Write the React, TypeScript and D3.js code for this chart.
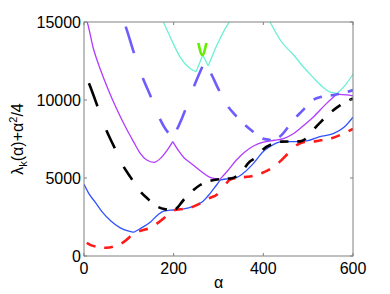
import React, { useEffect, useRef } from "react";
import * as d3 from "d3";

type Pt = [number, number];

// axis ticks
const alphaTicks = [0, 200, 400, 600];
const valueTicks = [0, 5000, 10000, 15000];

// each branch is split at its cusps, so every piece is a smooth run
const redDashed: Pt[][] = [
  [
    [0, 950], [15, 700], [30, 580], [50, 530], [70, 640], [89, 900], [112, 1450],
    [130, 1650], [145, 1780], [160, 2030], [178, 2420], [190, 2750], [201, 2930],
    [223, 3030], [245, 3180], [260, 3380], [279, 3700], [297, 3950], [311, 4400],
    [326, 4900], [345, 5020], [370, 5100], [396, 5300], [411, 5500], [437, 6050],
    [456, 6600], [474, 7100], [489, 7300], [515, 7350], [534, 7450], [552, 7550],
    [571, 7750], [590, 8000], [600, 8150],
  ],
];

const blueSolid: Pt[][] = [
  [[0, 4600], [12, 3950], [25, 3450], [40, 2850], [60, 2250], [80, 1820], [100, 1590], [111, 1520]],
  [
    [111, 1520], [125, 1750], [149, 2200], [165, 2650], [178, 2880], [200, 2950],
    [220, 3000], [245, 3200], [265, 3500], [281, 4000], [297, 4600], [305, 4880],
    [320, 4950], [337, 5000], [355, 5300], [378, 5940], [400, 6700], [415, 7010],
    [430, 7250], [445, 7330], [478, 7330], [500, 7400], [526, 7650], [556, 7850],
    [580, 8250], [600, 8900],
  ],
];

const blackDashed: Pt[][] = [
  [
    [0, 11800], [11, 11070], [30, 9600], [48, 8180], [67, 7010], [85, 5900], [104, 5040],
    [123, 4230], [141, 3700], [164, 3160], [182, 2990], [195, 2950],
  ],
  [
    [195, 2950], [203, 2990], [222, 3590], [240, 4120], [259, 4550], [282, 4830],
    [297, 4900], [318, 4960], [330, 4990], [348, 5300], [370, 6050], [381, 6260],
    [400, 6850], [420, 7180], [441, 7330], [482, 7350], [493, 7480], [504, 7800],
    [515, 8200], [530, 8650], [552, 9250], [571, 9650], [600, 10100],
  ],
];

const purpleSolid: Pt[][] = [
  [
    [0, 15400], [7, 15000], [20, 13400], [37, 11920], [55, 10600], [74, 9360], [92, 8300],
    [111, 7300], [125, 6600], [140, 6150], [156, 6000], [172, 6300], [186, 6800], [198, 7330],
  ],
  [[198, 7330], [212, 6700], [223, 6300], [236, 6000], [260, 5450], [280, 5050], [303, 4910]],
  [
    [303, 4910], [320, 5450], [340, 6150], [358, 6650], [378, 7050], [400, 7300],
    [425, 7420], [445, 7520], [465, 7800], [485, 8250], [511, 8900], [540, 9750], [564, 10380],
  ],
  [[564, 10380], [585, 10330], [600, 10270]],
];

const purpleDashed: Pt[][] = [
  [[85, 15300], [93, 14700], [111, 13050], [130, 11490], [149, 10210], [167, 8930], [186, 7970], [196, 7700]],
  [[196, 7700], [204, 7970], [223, 9150], [245, 10850], [259, 11810], [268, 12400]],
  [
    [268, 12400], [281, 11810], [299, 10750], [314, 9890], [337, 9040], [359, 8400],
    [377, 7970], [396, 7560], [413, 7450], [425, 7420],
  ],
  [
    [425, 7420], [441, 7760], [456, 8290], [474, 8930], [485, 9250], [511, 10000],
    [530, 10210], [556, 10320], [575, 10420], [600, 10640],
  ],
];

const cyanSolid: Pt[][] = [
  [[177, 15000], [192, 14060], [214, 12770], [236, 12030], [250, 11810]],
  [[250, 11810], [265, 12880]],
  [[265, 12880], [277, 12180]],
  [[277, 12180], [296, 13500], [314, 14530], [324, 15000]],
  [[415, 15000], [440, 13750], [467, 12900], [490, 12100], [511, 11450], [532, 10850], [553, 10470], [565, 10430]],
  [[565, 10430], [586, 11070], [601, 11700]],
];

const greenSolid: Pt[][] = [[[255, 13650], [264, 12880], [273, 13650]]];

const x = d3.scaleLinear().domain([0, 600]).range([84, 353]);
const y = d3.scaleLinear().domain([0, 15000]).range([256, 22]);

const line = d3
  .line<Pt>()
  .x((d) => x(d[0]))
  .y((d) => y(d[1]))
  .curve(d3.curveMonotoneX);

// dashes in the figure cover a fixed stretch of alpha: phase, period, dash length (alpha units)
const dashSets = [
  { id: "red", data: redDashed, color: "#ff1a1a", phase: 6, period: 38.9, dash: 19.5 },
  { id: "black", data: blackDashed, color: "#000000", phase: 11, period: 38.7, dash: 19 },
  { id: "purple", data: purpleDashed, color: "#6e5cff", phase: 93, period: 38.1, dash: 18.5 },
];

const solidSets = [
  { data: blueSolid, color: "#2f52ff", w: 1.3 },
  { data: purpleSolid, color: "#b13cff", w: 1.3 },
  { data: cyanSolid, color: "#6cf0d6", w: 1.3 },
  { data: greenSolid, color: "#66ee00", w: 2.6 },
];

const font = "'Liberation Sans', Arial, Helvetica, sans-serif";

export default function App() {
  const svgRef = useRef<SVGSVGElement>(null);
  const [x0, x1] = x.range();
  const [y0, y1] = y.range();

  // turn the alpha-based dash stretches into a stroke-dasharray along each path
  useEffect(() => {
    d3.select(svgRef.current)
      .selectAll<SVGPathElement, unknown>("path.dashed")
      .each(function () {
        const el = this;
        const phase = +(el.dataset.phase as string);
        const period = +(el.dataset.period as string);
        const dash = +(el.dataset.dash as string);
        const total = el.getTotalLength();
        const lenAt = (px: number) => {
          let lo = 0;
          let hi = total;
          for (let i = 0; i < 40; i++) {
            const mid = (lo + hi) / 2;
            if (el.getPointAtLength(mid).x < px) lo = mid;
            else hi = mid;
          }
          return (lo + hi) / 2;
        };
        const a0 = x.invert(el.getPointAtLength(0).x);
        const a1 = x.invert(el.getPointAtLength(total).x);
        const arr: number[] = [];
        let pos = 0;
        const k = Math.floor((a0 - phase) / period);
        for (let s = phase + k * period; s < a1; s += period) {
          const sa = Math.max(s, a0);
          const ea = Math.min(s + dash, a1);
          if (ea <= sa) continue;
          const ls = sa <= a0 ? 0 : lenAt(x(sa));
          const le = ea >= a1 ? total : lenAt(x(ea));
          const gap = ls - pos;
          if (arr.length === 0) {
            if (gap > 0) arr.push(0, gap);
          } else arr.push(gap);
          arr.push(le - ls);
          pos = le;
        }
        if (arr.length === 0) arr.push(0, total + 10);
        else arr.push(total - pos + 10);
        el.setAttribute("stroke-dasharray", arr.map((v) => v.toFixed(2)).join(" "));
      });
  }, []);

  return (
    <svg
      ref={svgRef}
      width={390}
      height={294}
      style={{ position: "absolute", left: 0, top: 0, background: "#fff" }}
      fontFamily={font}
    >
      <defs>
        <clipPath id="plot-area">
          <rect x={x0} y={y1} width={x1 - x0} height={y0 - y1} />
        </clipPath>
      </defs>

      <g clipPath="url(#plot-area)" fill="none">
        {solidSets.map((s, i) =>
          s.data.map((seg, j) => (
            <path key={`${i}-${j}`} d={line(seg) ?? ""} stroke={s.color} strokeWidth={s.w} />
          ))
        )}
        {dashSets.map((s) =>
          s.data.map((seg, j) => (
            <path
              key={`${s.id}-${j}`}
              className="dashed"
              data-phase={s.phase}
              data-period={s.period}
              data-dash={s.dash}
              d={line(seg) ?? ""}
              stroke={s.color}
              strokeWidth={2.6}
            />
          ))
        )}
      </g>

      {/* frame and inward ticks */}
      <rect x={x0} y={y1} width={x1 - x0} height={y0 - y1} fill="none" stroke="#808080" strokeWidth={1} />
      {alphaTicks.map((t) => (
        <g key={`xt${t}`} stroke="#808080">
          <line x1={x(t)} x2={x(t)} y1={y0} y2={y0 - 3} />
          <line x1={x(t)} x2={x(t)} y1={y1} y2={y1 + 3} />
        </g>
      ))}
      {valueTicks.map((t) => (
        <g key={`yt${t}`} stroke="#808080">
          <line x1={x0} x2={x0 + 3} y1={y(t)} y2={y(t)} />
          <line x1={x1} x2={x1 - 3} y1={y(t)} y2={y(t)} />
        </g>
      ))}

      {alphaTicks.map((t) => (
        <text key={`xl${t}`} x={x(t)} y={274} textAnchor="middle" fontSize={16} fill="#000">
          {t}
        </text>
      ))}
      {valueTicks.map((t) => (
        <text key={`yl${t}`} x={81} y={y(t) + 6} textAnchor="end" fontSize={16} fill="#000">
          {t}
        </text>
      ))}

      <text x={(x0 + x1) / 2} y={288} textAnchor="middle" fontSize={16} fill="#000">
        α
      </text>
      <text
        transform={`translate(23,${(y0 + y1) / 2}) rotate(-90)`}
        textAnchor="middle"
        fontSize={16}
        fill="#000"
      >
        λ
        <tspan dy={4} fontSize={11}>k</tspan>
        <tspan dy={-4}>(α)+α</tspan>
        <tspan dy={-6} fontSize={11}>2</tspan>
        <tspan dy={6}>/4</tspan>
      </text>
    </svg>
  );
}
